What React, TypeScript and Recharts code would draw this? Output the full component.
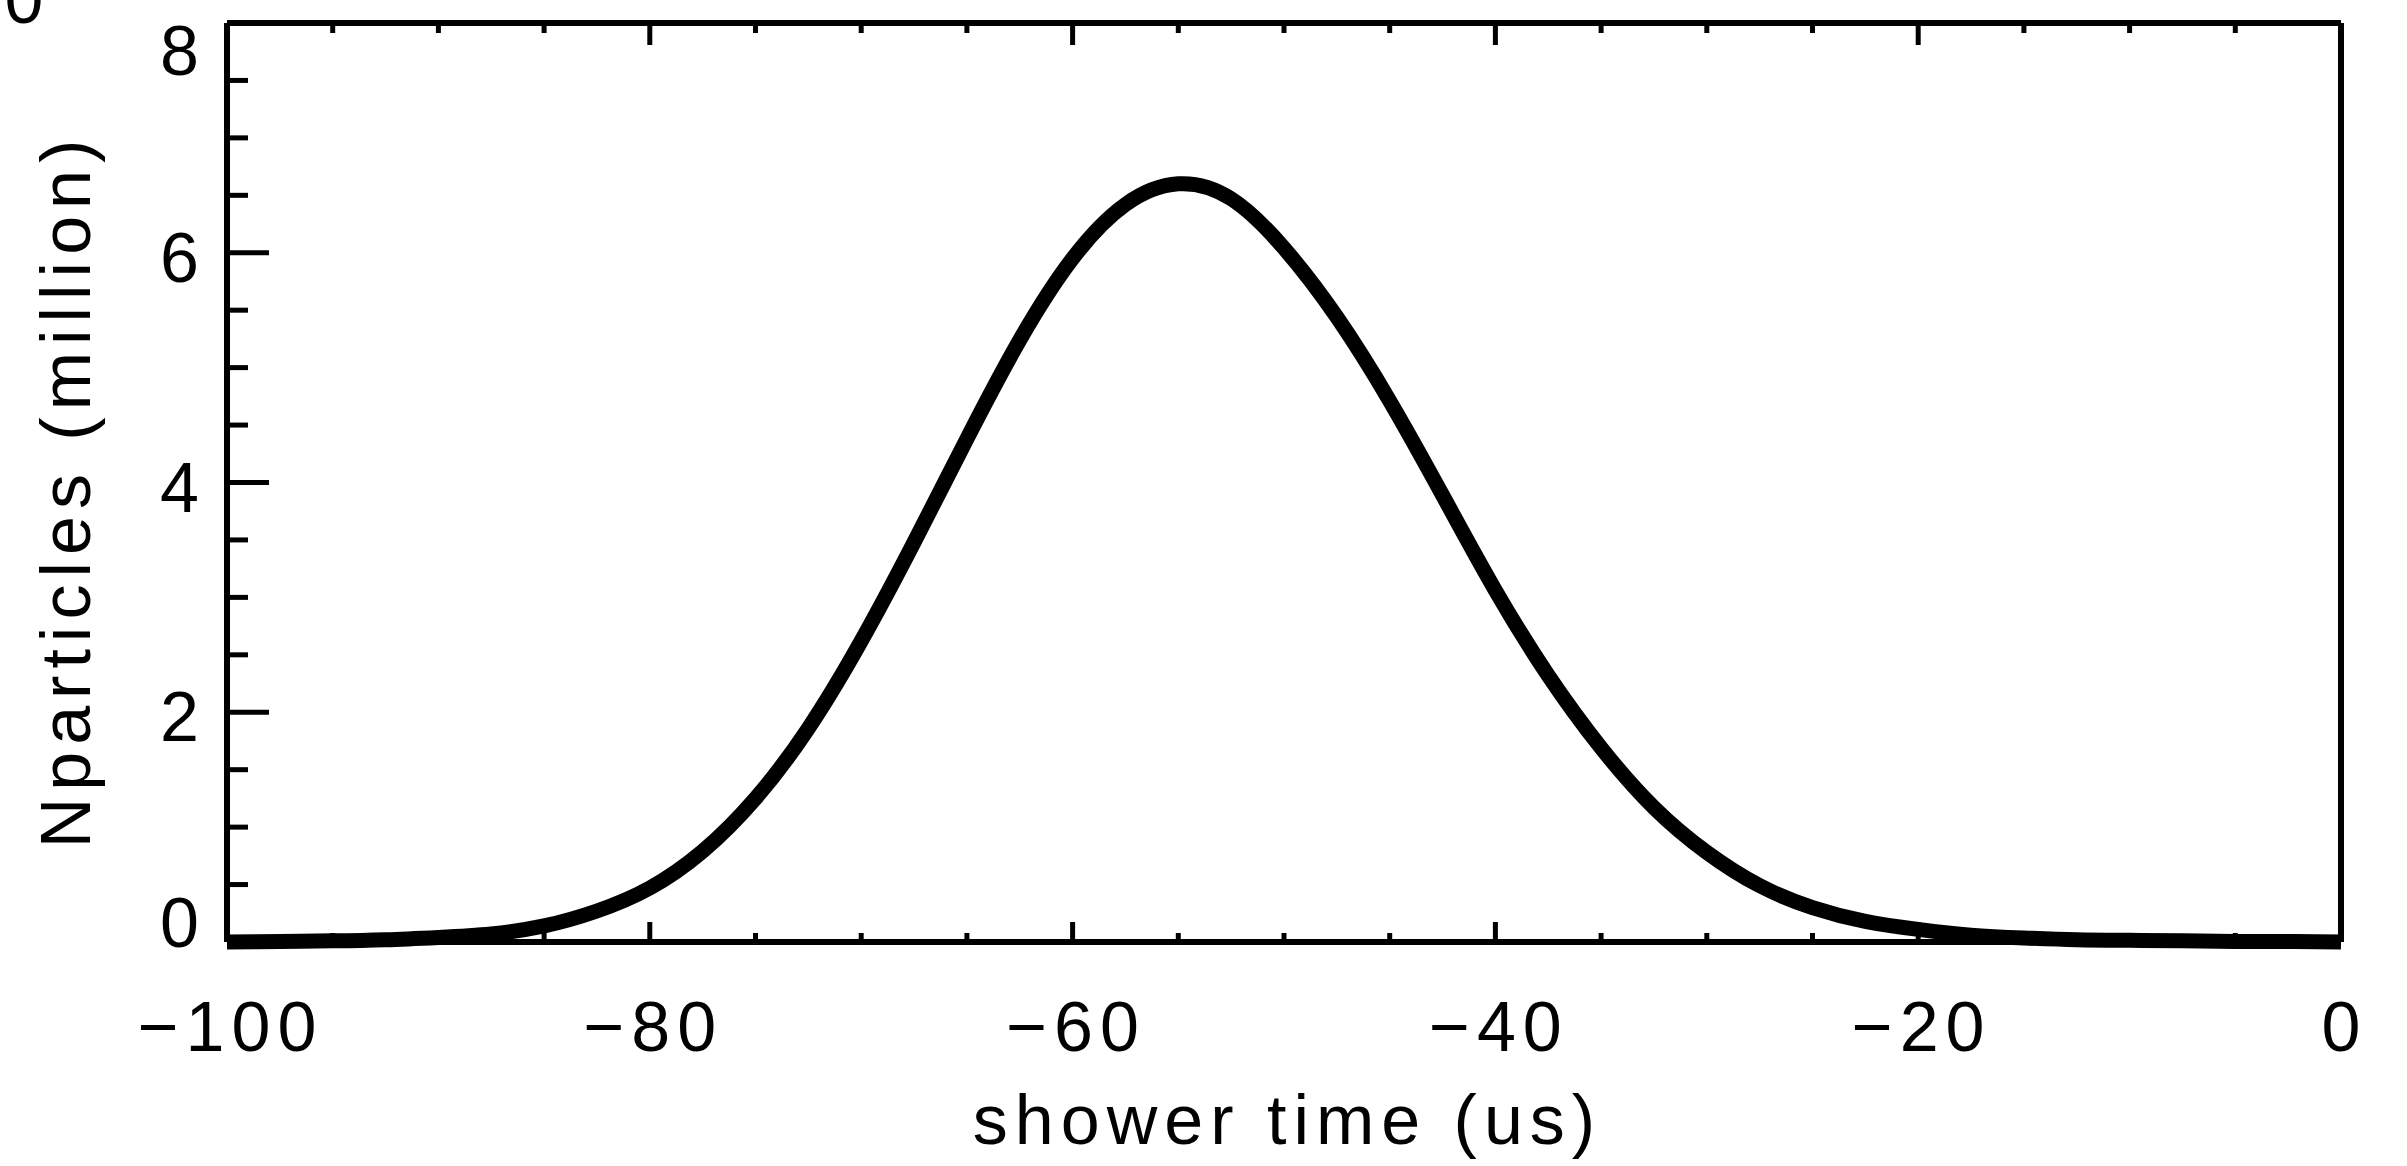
import React from 'react';
import { LineChart, Line, XAxis, YAxis } from 'recharts';

// shower time (us)
const times = [
  -100, -97.5, -95, -92.5, -90, -87.5, -85, -82.5, -80, -77.5,
  -75, -72.5, -70, -67.5, -65, -62.5, -60, -57.5, -55, -52.5,
  -50, -47.5, -45, -42.5, -40, -37.5, -35, -32.5, -30, -27.5,
  -25, -22.5, -20, -17.5, -15, -12.5, -10, -7.5, -5, -2.5, 0,
];
// Nparticles (million)
const particles = [
  0.0, 0.005, 0.01, 0.02, 0.04, 0.07, 0.14, 0.27, 0.47, 0.79,
  1.25, 1.86, 2.62, 3.48, 4.38, 5.24, 5.95, 6.42, 6.6, 6.47,
  6.04, 5.44, 4.71, 3.89, 3.06, 2.32, 1.69, 1.17, 0.78, 0.49,
  0.3, 0.18, 0.11, 0.06, 0.035, 0.02, 0.015, 0.01, 0.005, 0.005, 0.0,
];

const xTicks = [
  -100, -95, -90, -85, -80, -75, -70, -65, -60, -55, -50,
  -45, -40, -35, -30, -25, -20, -15, -10, -5, 0,
];
const xMajor = [-100, -80, -60, -40, -20, 0];
const yTicks = [0, 0.5, 1, 1.5, 2, 2.5, 3, 3.5, 4, 4.5, 5, 5.5, 6, 6.5, 7, 7.5, 8];
const yMajor = [0, 2, 4, 6, 8];

const xTitle = 'shower time (us)';
const yTitle = 'Nparticles (million)';
const cornerText = '0';

const data = times.map((t, i) => ({ t, v: particles[i] }));

const FONT = "'Liberation Sans', Arial, sans-serif";
const FS = 70;
const LS = 7;

const fmt = (v: number) => (v < 0 ? '\u2212' + Math.abs(v) : String(v));

function BottomTick(props: any) {
  const { x, y, payload } = props;
  const major = xMajor.includes(payload.value);
  return (
    <g>
      <line x1={x} x2={x} y1={y} y2={y - (major ? 20 : 9)} stroke="#000" strokeWidth={5} />
      {major && (
        <text x={x + LS / 2} y={y + 109} textAnchor="middle" fontSize={FS} fontFamily={FONT} letterSpacing={LS} fill="#000">
          {fmt(payload.value)}
        </text>
      )}
    </g>
  );
}

function TopTick(props: any) {
  const { x, y, payload } = props;
  const major = xMajor.includes(payload.value);
  return <line x1={x} x2={x} y1={y} y2={y + (major ? 22 : 10)} stroke="#000" strokeWidth={5} />;
}

function LeftTick(props: any) {
  const { x, y, payload } = props;
  const val = payload.value;
  const major = yMajor.includes(val);
  let dy = 29;
  if (val === 8) dy = 52;
  if (val === 0) dy = 5;
  return (
    <g>
      <line x1={x} x2={x + (major ? 42 : 21)} y1={y} y2={y} stroke="#000" strokeWidth={5} />
      {major && (
        <text x={x - 21} y={y + dy} textAnchor="end" fontSize={FS} fontFamily={FONT} letterSpacing={LS} fill="#000">
          {fmt(val)}
        </text>
      )}
    </g>
  );
}

function RightTick(props: any) {
  const { x, y, payload } = props;
  const major = yMajor.includes(payload.value);
  return <line x1={x} x2={x - (major ? 42 : 21)} y1={y} y2={y} stroke="#000" strokeWidth={5} />;
}

function XTitle(props: any) {
  const vb = props.viewBox || {};
  const cx = vb.x + vb.width / 2 + LS / 2;
  return (
    <text x={cx} y={vb.y + 202} textAnchor="middle" fontSize={FS} fontFamily={FONT} letterSpacing={LS} fill="#000">
      {xTitle}
    </text>
  );
}

function YTitle(props: any) {
  const vb = props.viewBox || {};
  const cx = vb.x - 17;
  const cy = vb.y + vb.height / 2 + 8;
  return (
    <text
      x={cx}
      y={cy}
      transform={`rotate(-90, ${cx}, ${cy})`}
      textAnchor="middle"
      fontSize={FS}
      fontFamily={FONT}
      letterSpacing={LS}
      fill="#000"
    >
      {yTitle}
    </text>
  );
}

export default function App() {
  return (
    <div style={{ position: 'absolute', left: 0, top: 0, width: 2407, height: 1166, background: '#fff', overflow: 'hidden' }}>
      <LineChart
        width={2407}
        height={1166}
        data={data}
        margin={{ top: 22, right: 65, left: 107, bottom: 124 }}
      >
        <XAxis
          xAxisId="b"
          dataKey="t"
          type="number"
          domain={[-100, 0]}
          ticks={xTicks}
          interval={0}
          height={100}
          tickSize={0}
          tickMargin={0}
          tickLine={false}
          axisLine={{ stroke: '#000', strokeWidth: 6 }}
          tick={(p: any) => <BottomTick {...p} />}
          label={(p: any) => <XTitle {...p} />}
        />
        <XAxis
          xAxisId="t"
          dataKey="t"
          type="number"
          orientation="top"
          domain={[-100, 0]}
          ticks={xTicks}
          interval={0}
          height={1}
          tickSize={0}
          tickMargin={0}
          tickLine={false}
          axisLine={{ stroke: '#000', strokeWidth: 6 }}
          tick={(p: any) => <TopTick {...p} />}
        />
        <YAxis
          yAxisId="l"
          type="number"
          domain={[0, 8]}
          ticks={yTicks}
          interval={0}
          width={120}
          tickSize={0}
          tickMargin={0}
          tickLine={false}
          axisLine={{ stroke: '#000', strokeWidth: 6 }}
          tick={(p: any) => <LeftTick {...p} />}
          label={(p: any) => <YTitle {...p} />}
        />
        <YAxis
          yAxisId="r"
          orientation="right"
          type="number"
          domain={[0, 8]}
          ticks={yTicks}
          interval={0}
          width={1}
          tickSize={0}
          tickMargin={0}
          tickLine={false}
          axisLine={{ stroke: '#000', strokeWidth: 6 }}
          tick={(p: any) => <RightTick {...p} />}
        />
        <Line
          xAxisId="b"
          yAxisId="l"
          type="natural"
          dataKey="v"
          stroke="#000"
          strokeWidth={15}
          dot={false}
          activeDot={false}
          isAnimationActive={false}
        />
      </LineChart>
      <svg width={2407} height={1166} style={{ position: 'absolute', left: 0, top: 0, pointerEvents: 'none' }}>
        <text x={24} y={23} textAnchor="middle" fontSize={FS} fontFamily={FONT} fill="#000">
          {cornerText}
        </text>
      </svg>
    </div>
  );
}
